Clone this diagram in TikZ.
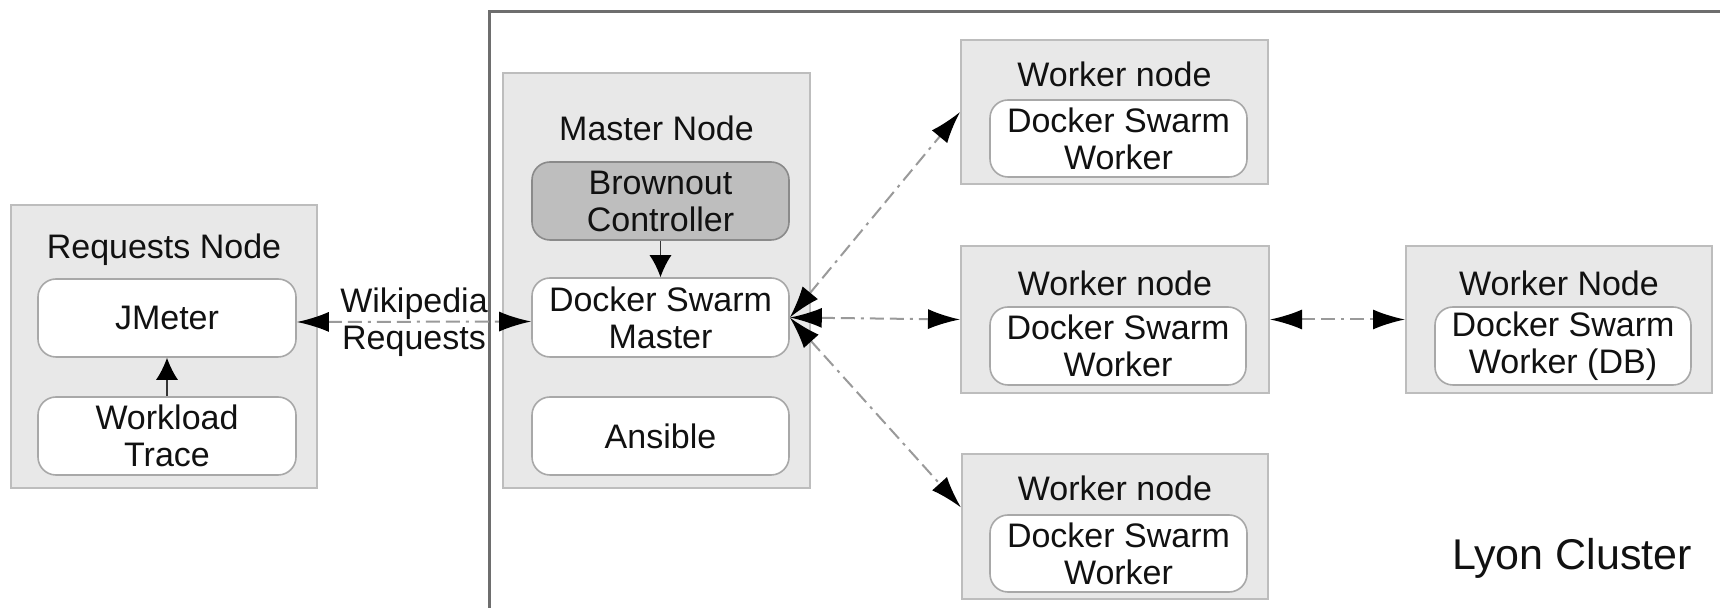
\documentclass[tikz,border=0pt]{standalone}
\usepackage{fontspec}
\setmainfont{Liberation Sans}
\usetikzlibrary{arrows.meta}
\definecolor{outerfill}{HTML}{E8E8E8}
\definecolor{outerdraw}{HTML}{BDBDBD}
\definecolor{innerdraw}{HTML}{A8A8A8}
\definecolor{brownfill}{HTML}{BEBEBE}
\definecolor{browndraw}{HTML}{8A8A8A}
\definecolor{clusterline}{HTML}{6E6E6E}
\definecolor{connline}{HTML}{9A9A9A}
\definecolor{txt}{HTML}{111111}
\tikzset{
  every node/.style={font=\fontsize{17}{18.5}\selectfont, text=txt},
  outerbox/.style={draw=outerdraw, fill=outerfill, line width=1pt, inner sep=0pt},
  innerbox/.style={draw=innerdraw, fill=white, line width=0.8pt, rounded corners=9pt, inner sep=0pt, align=center},
  brownbox/.style={draw=browndraw, fill=brownfill, line width=0.8pt, rounded corners=9pt, inner sep=0pt, align=center},
  lbl/.style={inner sep=0pt, align=center},
  conn/.style={draw=connline, line width=1pt, dash pattern=on 7pt off 3pt on 7pt off 3pt on 1.5pt off 3pt,
    {Latex[black,length=16pt,width=10pt]}-{Latex[black,length=16pt,width=10pt]}},
  smallarrow/.style={draw=black!80, line width=0.6pt, -{Latex[black,length=11pt,width=11pt]}},
  cluster/.style={draw=clusterline, line width=1.5pt}
}
\begin{document}
\begin{tikzpicture}[x=0.5pt,y=-0.5pt]
\useasboundingbox (0,0) rectangle (1720,608);
\fill[white] (0,0) rectangle (1720,608);
% cluster border
\draw[cluster] (489,630) -- (489,12) -- (1740,12);
% Requests node
\node[outerbox, minimum width=153pt, minimum height=141.5pt] (rq) at (164,346.5) {};
\node[lbl] (rqlabel) at (164,250) {Requests Node};
\node[innerbox, minimum width=129pt, minimum height=39pt] (jm) at (167,318) {JMeter};
\node[innerbox, minimum width=129pt, minimum height=39pt] (wl) at (167,436) {Workload\\Trace};
% Master node
\node[outerbox, minimum width=153.5pt, minimum height=207.5pt] (ms) at (656.5,280.5) {};
\node[lbl] (mslabel) at (656.5,128) {Master Node};
\node[brownbox, minimum width=128.5pt, minimum height=39pt] (bc) at (660.5,201) {Brownout\\Controller};
\node[innerbox, minimum width=128.5pt, minimum height=39.5pt] (dsm) at (660.5,317.5) {Docker Swarm\\Master};
\node[innerbox, minimum width=128.5pt, minimum height=39pt] (an) at (660.5,436) {Ansible};
% Top worker
\node[outerbox, minimum width=153.5pt, minimum height=72pt] (tw) at (1114.5,112) {};
\node[lbl] (twlabel) at (1114.5,74) {Worker node};
\node[innerbox, minimum width=128.5pt, minimum height=38.5pt] (twi) at (1118.5,138.5) {Docker Swarm\\Worker};
% Middle worker
\node[outerbox, minimum width=154pt, minimum height=73.5pt] (mw) at (1115,319.5) {};
\node[lbl] (mwlabel) at (1115,283) {Worker node};
\node[innerbox, minimum width=128pt, minimum height=39pt] (mwi) at (1118,346) {Docker Swarm\\Worker};
% Bottom worker
\node[outerbox, minimum width=153pt, minimum height=72.5pt] (bw) at (1115,526.5) {};
\node[lbl] (bwlabel) at (1115,488) {Worker node};
\node[innerbox, minimum width=128.5pt, minimum height=38.5pt] (bwi) at (1118.5,553.5) {Docker Swarm\\Worker};
% DB worker
\node[outerbox, minimum width=153pt, minimum height=73.5pt] (db) at (1559,319.5) {};
\node[lbl] (dblabel) at (1559,283) {Worker Node};
\node[innerbox, minimum width=128pt, minimum height=39pt] (dbi) at (1563,346) {Docker Swarm\\Worker (DB)};
% Lyon cluster label
\node[lbl, font=\fontsize{21.5}{24}\selectfont] (lyon) at (1572,558) {Lyon Cluster};
% connectors
\draw[conn] ([yshift=-2pt]jm.east) -- node[lbl, pos=0.5] (wiki) {Wikipedia\\Requests} ([yshift=-2pt]dsm.west);
\draw[conn] (dsm.east) -- (tw.west);
\draw[conn] (dsm.east) -- (mw.west);
\draw[conn] (dsm.east) -- ([yshift=9.5pt]bw.west);
\draw[conn] (mw.east) -- (db.west);
\draw[smallarrow] (wl.north) -- (jm.south);
\draw[smallarrow] (bc.south) -- (dsm.north);
\end{tikzpicture}
\end{document}
